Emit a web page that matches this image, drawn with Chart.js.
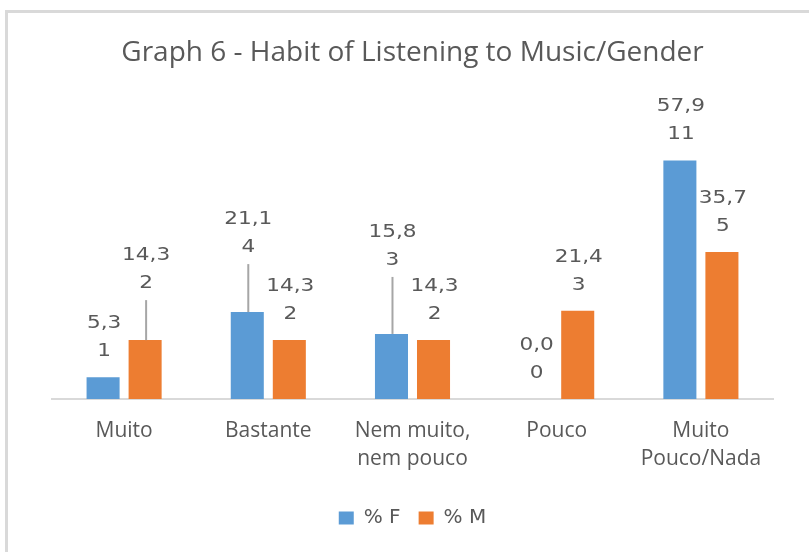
<!DOCTYPE html>
<html>
<head>
<meta charset="utf-8">
<script src="https://cdn.jsdelivr.net/npm/chart.js@4/dist/chart.umd.min.js"></script>
<style>
  html, body { margin: 0; padding: 0; background: #fff; }
  #wrap { position: relative; width: 809px; height: 552px; overflow: hidden; }
  #frame { position: absolute; left: 5px; top: 10px; width: 820px; height: 560px;
           border: 3px solid #d9d9d9; pointer-events: none; }
</style>
</head>
<body>
<div id="wrap">
  <canvas id="myBarChart" width="809" height="552"></canvas>
  <div id="frame"></div>
</div>
<script>
// values
const categories = ["Muito", "Bastante", ["Nem muito,", "nem pouco"], "Pouco", ["Muito", "Pouco/Nada"]];
const femalePct = [5.3, 21.1, 15.8, 0.0, 57.9];
const malePct = [14.3, 14.3, 14.3, 21.4, 35.7];
const femaleCount = [1, 4, 3, 0, 11];
const maleCount = [2, 2, 2, 3, 5];

// extra lift for the labels that got pushed up with a leader line
const labelLift = [
  [0, 39, 48, 0, 0],
  [31, 0, 0, 0, 0],
];

const textColor = "#595959";

const barLabels = {
  id: "barLabels",
  afterDatasetsDraw(chart) {
    const ctx = chart.ctx;
    const counts = [femaleCount, maleCount];
    ctx.save();
    chart.data.datasets.forEach((ds, d) => {
      const meta = chart.getDatasetMeta(d);
      meta.data.forEach((bar, i) => {
        const lift = labelLift[d][i];
        const line2 = bar.y - 26 - lift;
        const line1 = line2 - 28;
        const pct = ds.data[i].toFixed(1).replace(".", ",");
        if (lift > 0) {
          ctx.strokeStyle = "#a6a6a6";
          ctx.lineWidth = 2;
          ctx.beginPath();
          ctx.moveTo(bar.x + 1, line2 + 17);
          ctx.lineTo(bar.x + 1, bar.y);
          ctx.stroke();
        }
        ctx.fillStyle = textColor;
        ctx.font = "18px 'DejaVu Sans'";
        ctx.textAlign = "center";
        ctx.textBaseline = "middle";
        [[pct, line1], [String(counts[d][i]), line2]].forEach(([t, y]) => {
          ctx.save();
          ctx.translate(bar.x + 1, y);
          ctx.scale(1.2, 1);
          ctx.fillText(t, 0, 0);
          ctx.restore();
        });
      });
    });
    ctx.restore();
  },
};

const ctx = document.getElementById("myBarChart").getContext("2d");
const myBarChart = new Chart(ctx, {
  type: "bar",
  data: {
    labels: categories,
    datasets: [
      {
        label: "% F",
        data: femalePct,
        backgroundColor: "#5b9bd5",
      },
      {
        label: "% M",
        data: malePct,
        backgroundColor: "#ed7d31",
      },
    ],
  },
  options: {
    responsive: false,
    animation: false,
    categoryPercentage: 0.583,
    barPercentage: 0.786,
    layout: {
      padding: { left: 52, right: 36, top: 36, bottom: 14 },
    },
    plugins: {
      title: {
        display: true,
        text: "Graph 6 - Habit of Listening to Music/Gender",
        color: textColor,
        font: { family: "Open Sans", size: 28, weight: "normal" },
        padding: { top: 0, bottom: 41 },
      },
      legend: {
        position: "bottom",
        labels: {
          color: textColor,
          font: { family: "DejaVu Sans", size: 20 },
          boxWidth: 15,
          boxHeight: 13,
          padding: 18,
        },
      },
      tooltip: { enabled: false },
    },
    scales: {
      y: {
        display: false,
        min: 0,
        max: 70,
      },
      x: {
        grid: { display: false },
        border: { color: "#d9d9d9", width: 2 },
        ticks: {
          color: textColor,
          font: { family: "Open Sans", size: 21, lineHeight: 1.38 },
          padding: 9,
          maxRotation: 0,
        },
        afterFit(scale) {
          scale.height += 7;
        },
      },
    },
  },
  plugins: [barLabels],
});
</script>
</body>
</html>
